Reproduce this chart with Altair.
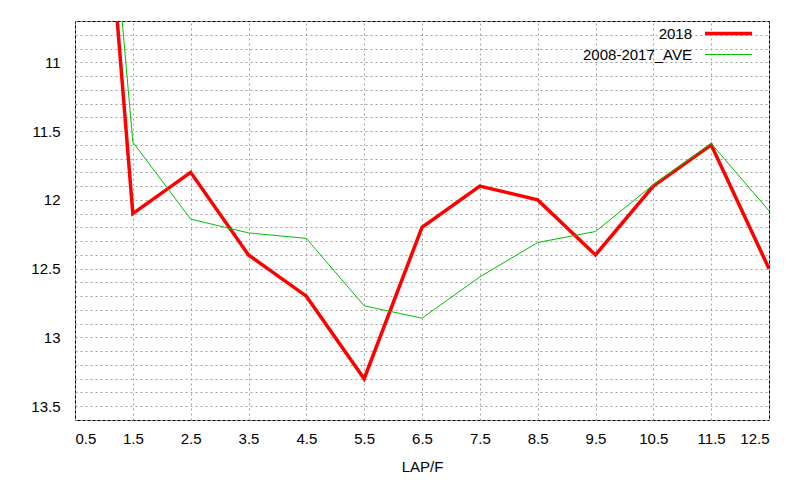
import altair as alt
import pandas as pd

laps = [0.5, 1.5, 2.5, 3.5, 4.5, 5.5, 6.5, 7.5, 8.5, 9.5, 10.5, 11.5, 12.5]
y2018 = [6.9, 12.1, 11.8, 12.4, 12.7, 13.3, 12.2, 11.9, 12.0, 12.4, 11.9, 11.6, 12.5]
yave = [6.8, 11.58, 12.14, 12.24, 12.28, 12.77, 12.86, 12.56, 12.31, 12.23, 11.89, 11.59, 12.08]
series = ["2018", "2008-2017_AVE"]
colors = ["#ff0000", "#00c000"]
widths = [3.5, 1.0]
x_ticks = laps
y_ticks = [round(10.7 + 0.1 * i, 1) for i in range(30)]

df_a = pd.DataFrame({"lap": laps, "time": y2018, "series": series[0]})
df_b = pd.DataFrame({"lap": laps, "time": yave, "series": series[1]})

FONT = "Liberation Sans"
FS = 15

x_enc = alt.X(
    "lap:Q",
    scale=alt.Scale(domain=[0.5, 12.5], nice=False, zero=False),
    axis=alt.Axis(
        values=x_ticks, format=".1f", title="LAP/F", grid=True,
        gridDash=[2, 3], gridColor="#a0a0a0", gridWidth=1,
        tickSize=0, labelPadding=11, domain=False,
        labelFont=FONT, labelFontSize=FS, labelColor="#000000",
        titleFont=FONT, titleFontSize=FS, titleFontWeight="normal",
        titleColor="#000000", titlePadding=13,
    ),
)
y_enc = alt.Y(
    "time:Q",
    scale=alt.Scale(domain=[10.7, 13.6], reverse=True, nice=False, zero=False),
    axis=alt.Axis(
        values=y_ticks, title=None, grid=True,
        gridDash=[2, 3], gridColor="#a0a0a0", gridWidth=1,
        labelExpr="abs(datum.value*2 - round(datum.value*2)) < 0.001 ? format(datum.value, '~g') : ''",
        tickSize=0, labelPadding=15, domain=False,
        labelFont=FONT, labelFontSize=FS, labelColor="#000000",
        minExtent=67, maxExtent=67,
    ),
)
color_enc_kwargs = dict(
    scale=alt.Scale(domain=series, range=colors),
)
legend = alt.Legend(
    title=None, orient="none", legendX=646, legendY=5, padding=0,
    symbolType="M-5,0H5", symbolSize=88, symbolStrokeWidth=3.5,
    labelAlign="right", labelOffset={"expr": "-44"}, labelFont=FONT, labelFontSize=FS,
    labelColor="#000000", rowPadding=5, labelLimit=300,
)

def layer(df):
    return alt.Chart(df).mark_line(clip=True).encode(
        x=x_enc,
        y=y_enc,
        color=alt.Color("series:N", legend=legend, **color_enc_kwargs),
        strokeWidth=alt.StrokeWidth(
            "series:N", scale=alt.Scale(domain=series, range=widths), legend=legend
        ),
    )

chart = alt.layer(layer(df_a), layer(df_b)).properties(
    width=694, height=399,
    padding={"left": 0, "top": 12, "right": 0, "bottom": 0},
    background="#ffffff",
).configure_view(stroke="#000000", strokeWidth=1)

chart.save("out.html", embed_options={"renderer": "svg", "actions": False})
